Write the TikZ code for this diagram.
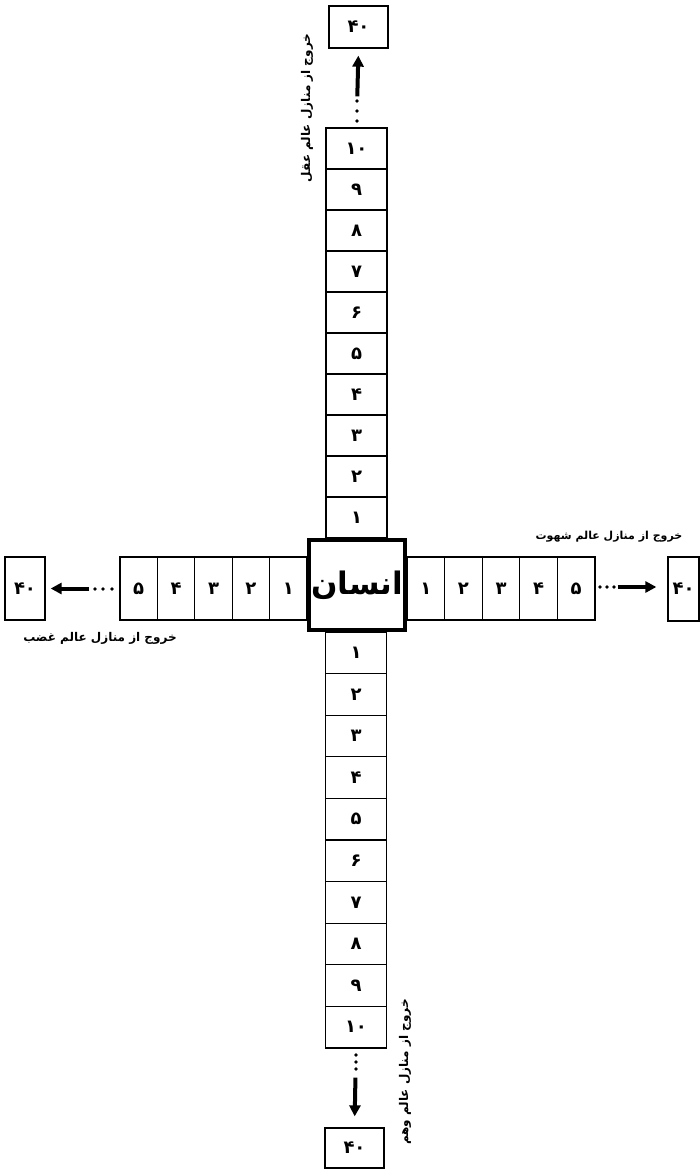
\documentclass[tikz,border=0pt]{standalone}
\usepackage{fontspec}
\usetikzlibrary{arrows.meta}
\newfontfamily\fa[Script=Arabic]{DejaVu Sans}
\TeXXeTstate=1
\begin{document}
\begin{tikzpicture}[x=1pt,y=-1pt,
  box/.style={draw, line width=1.3pt, inner sep=0pt, fill=white,
    font=\fa\bfseries\fontsize{18}{18}\selectfont},
  vcell/.style={box, minimum width=61pt},
  hcell/.style={box, minimum height=63pt},
  center/.style={draw, line width=4pt, fill=white, inner sep=0pt,
    minimum width=96pt, minimum height=90pt,
    font=\fa\bfseries\fontsize{31}{31}\selectfont},
  lab/.style={inner sep=0pt, font=\fa\bfseries\fontsize{12}{12}\selectfont},
  bigarrow/.style={line width=4pt, -{Triangle[length=11pt,width=11pt]}},
  dot/.style={fill=black}]
\useasboundingbox (0,0) rectangle (700,1170);
% upper column
\foreach \i/\t in {1/۱,2/۲,3/۳,4/۴,5/۵,6/۶,7/۷,8/۸,9/۹,10/۱۰}
  \node[vcell, minimum height=41pt] (u\i) at (356.5,{538-41*(\i-0.5)}) {\t};
% lower column
\foreach \i/\t in {1/۱,2/۲,3/۳,4/۴,5/۵,6/۶,7/۷,8/۸,9/۹,10/۱۰}
  \node[vcell, minimum height=41.6pt] (d\i) at (356,{632+41.6*(\i-0.5)}) {\t};
% left row
\foreach \i/\t in {1/۱,2/۲,3/۳,4/۴,5/۵}
  \node[hcell, minimum width=37.4pt] (l\i) at ({307-37.4*(\i-0.5)},588.5) {\t};
% right row
\foreach \i/\t in {1/۱,2/۲,3/۳,4/۴,5/۵}
  \node[hcell, minimum width=37.6pt] (r\i) at ({407+37.6*(\i-0.5)},588.5) {\t};
% centre
\node[center] (ensan) at (357,585) {انسان};
% end boxes
\node[box, minimum width=59pt, minimum height=42pt] (ut) at (358.5,27) {۴۰};
\node[box, minimum width=59pt, minimum height=40pt] (dt) at (354.5,1148) {۴۰};
\node[box, minimum width=40pt, minimum height=63pt] (lt) at (25,588.5) {۴۰};
\node[box, minimum width=31pt, minimum height=64pt] (rt) at (683.5,589) {۴۰};
% dots
\foreach \y in {101,111,121} \fill[dot] (357,\y) circle[radius=1.8pt];
\foreach \y in {1055,1062,1069} \fill[dot] (356,\y) circle[radius=1.8pt];
\foreach \x in {95,103,112} \fill[dot] (\x,589) circle[radius=1.8pt];
\foreach \x in {600,607,614} \fill[dot] (\x,587) circle[radius=1.8pt];
% arrows
\draw[bigarrow, shorten <=31pt, shorten >=7pt] (u10.north) -- (ut.south);
\draw[bigarrow, shorten <=29pt, shorten >=11pt] (d10.south) -- (dt.north);
\draw[bigarrow, shorten <=30pt, shorten >=5pt] (l5.west) -- (lt.east);
\draw[bigarrow, shorten <=22pt, shorten >=11pt] (r5.east |- 0,587) -- (rt.west |- 0,587);
% labels
\node[lab, rotate=90] (lup) at (307,108) {\beginR خروج از منازل عالم عقل\endR};
\node[lab, rotate=90] (ldown) at (405,1072) {\beginR خروج از منازل عالم وهم\endR};
\node[lab, font=\fa\bfseries\fontsize{11}{11}\selectfont] (lright) at (609,537) {\beginR خروج از منازل عالم شهوت\endR};
\node[lab] (lleft) at (100,638) {\beginR خروج از منازل عالم غضب\endR};
\end{tikzpicture}
\end{document}
